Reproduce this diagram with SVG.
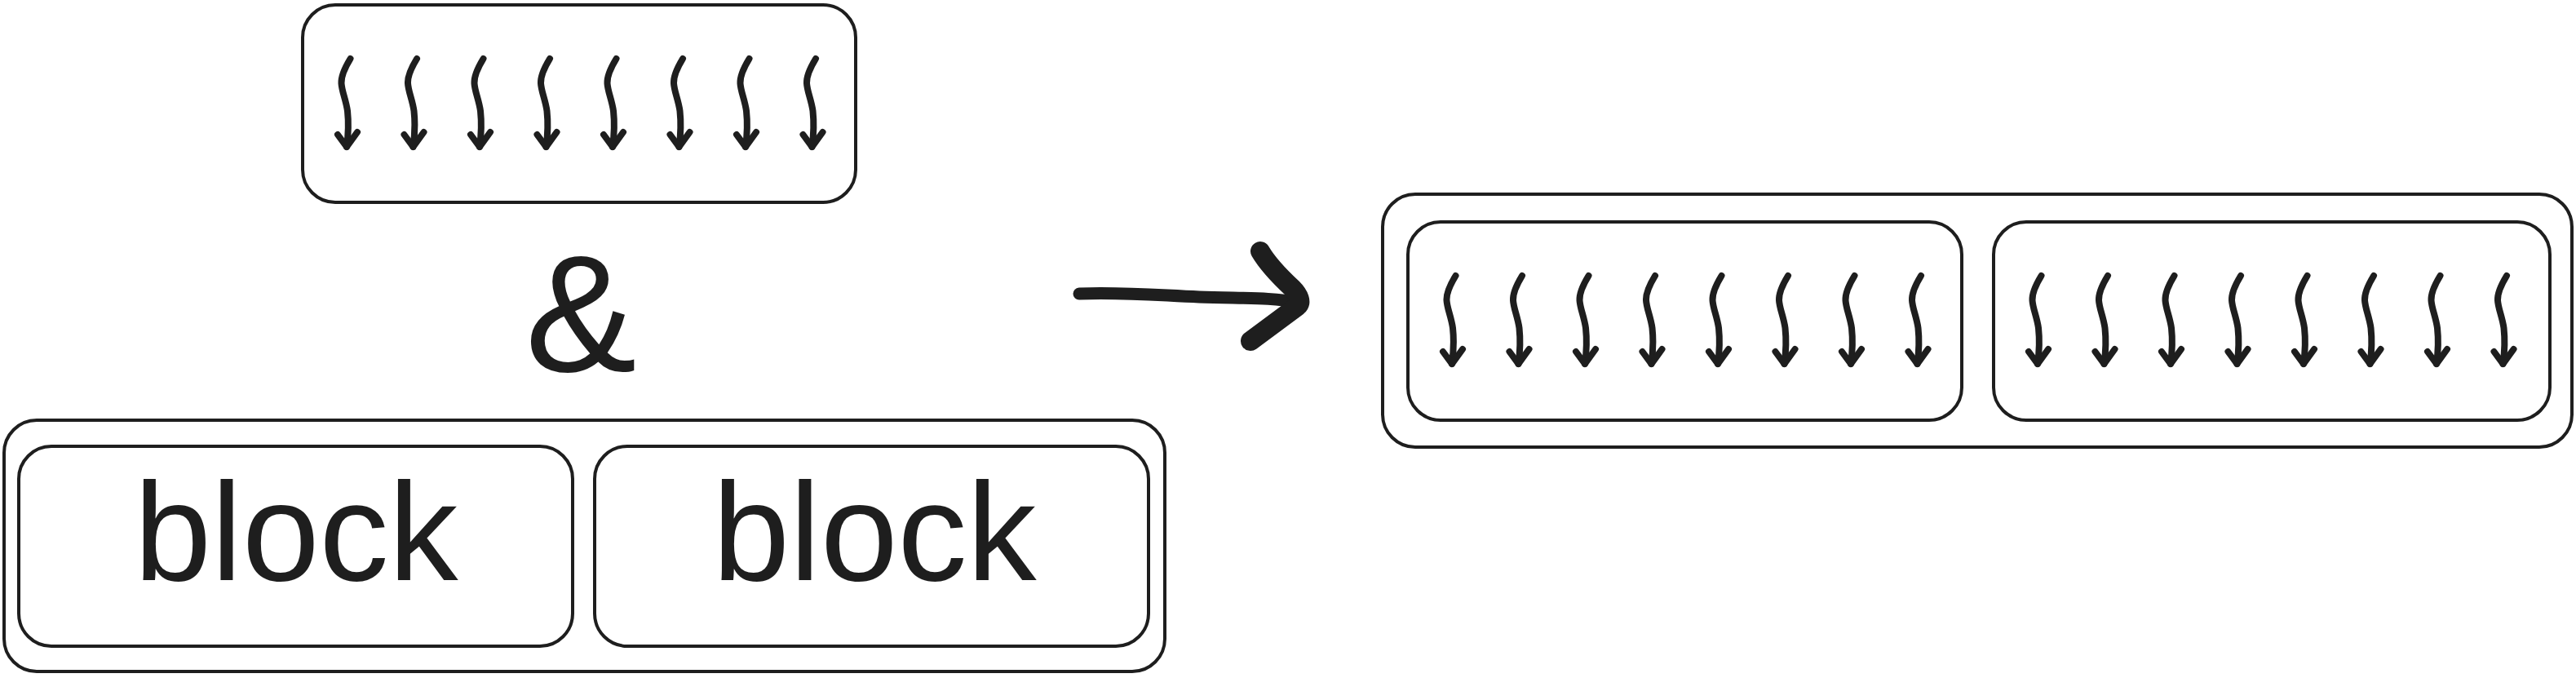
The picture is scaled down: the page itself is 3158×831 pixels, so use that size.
<svg xmlns="http://www.w3.org/2000/svg" width="3158" height="831" viewBox="0 0 3158 831">
<style>
.box{fill:none;stroke:#1e1e1e;stroke-width:4}
.sa{fill:none;stroke:#1e1e1e;stroke-width:8;stroke-linecap:round;stroke-linejoin:round}
.sa .hd{stroke-width:9}
.lbl{font-family:"Liberation Sans",Arial,sans-serif;fill:#1e1e1e}
.big{fill:none;stroke:#1e1e1e;stroke-linecap:round;stroke-linejoin:round}
</style>
<defs>
<g id="sarrow">
<path d="M4.5,-108 C-1,-99 -7,-88 -6.5,-78 C-6,-68 -1,-58 1,-44 C2.5,-30 2,-15 0,0"/>
<path class="hd" d="M-11,-15 L0,0 L13,-18"/>
</g>
<g id="row" class="sa">
<use href="#sarrow" x="54" y="174"/>
<use href="#sarrow" x="135.5" y="174"/>
<use href="#sarrow" x="217" y="174"/>
<use href="#sarrow" x="298.5" y="174"/>
<use href="#sarrow" x="380" y="174"/>
<use href="#sarrow" x="461.5" y="174"/>
<use href="#sarrow" x="543" y="174"/>
<use href="#sarrow" x="624.5" y="174"/>
</g>
</defs>
<rect width="3158" height="831" fill="#ffffff"/>
<g id="top-threads">
<rect class="box" x="371" y="6" width="678" height="242" rx="40"/>
<use href="#row" x="371" y="6"/>
</g>
<g id="ampersand">
<text class="lbl" x="712" y="455" font-size="205" text-anchor="middle">&amp;</text>
</g>
<g id="block-pair">
<rect class="box" x="5" y="515" width="1423" height="308" rx="40"/>
</g>
<g id="block-1">
<rect class="box" x="23" y="547" width="679" height="245" rx="40"/>
<text class="lbl" x="363" y="711" font-size="170" text-anchor="middle">block</text>
</g>
<g id="block-2">
<rect class="box" x="729" y="547" width="679" height="245" rx="40"/>
<text class="lbl" x="1072" y="711" font-size="170" text-anchor="middle">block</text>
</g>
<g id="result">
<rect class="box" x="1695" y="238" width="1458" height="310" rx="40"/>
</g>
<g id="result-threads-1">
<rect class="box" x="1726" y="272" width="679" height="243" rx="40"/>
<use href="#row" x="1726" y="272"/>
</g>
<g id="result-threads-2">
<rect class="box" x="2444" y="272" width="682" height="243" rx="40"/>
<use href="#row" x="2444" y="272"/>
</g>
<g id="connectors">
<path class="big" stroke-width="15" d="M1323,360 C1380,358 1420,362 1470,364 C1520,366 1560,364 1590,371"/>
<path class="big" stroke-width="24" d="M1545,308 C1555,325 1570,340 1584,353 C1593,362 1596,371 1591,375 L1533,418"/>
</g>
</svg>
